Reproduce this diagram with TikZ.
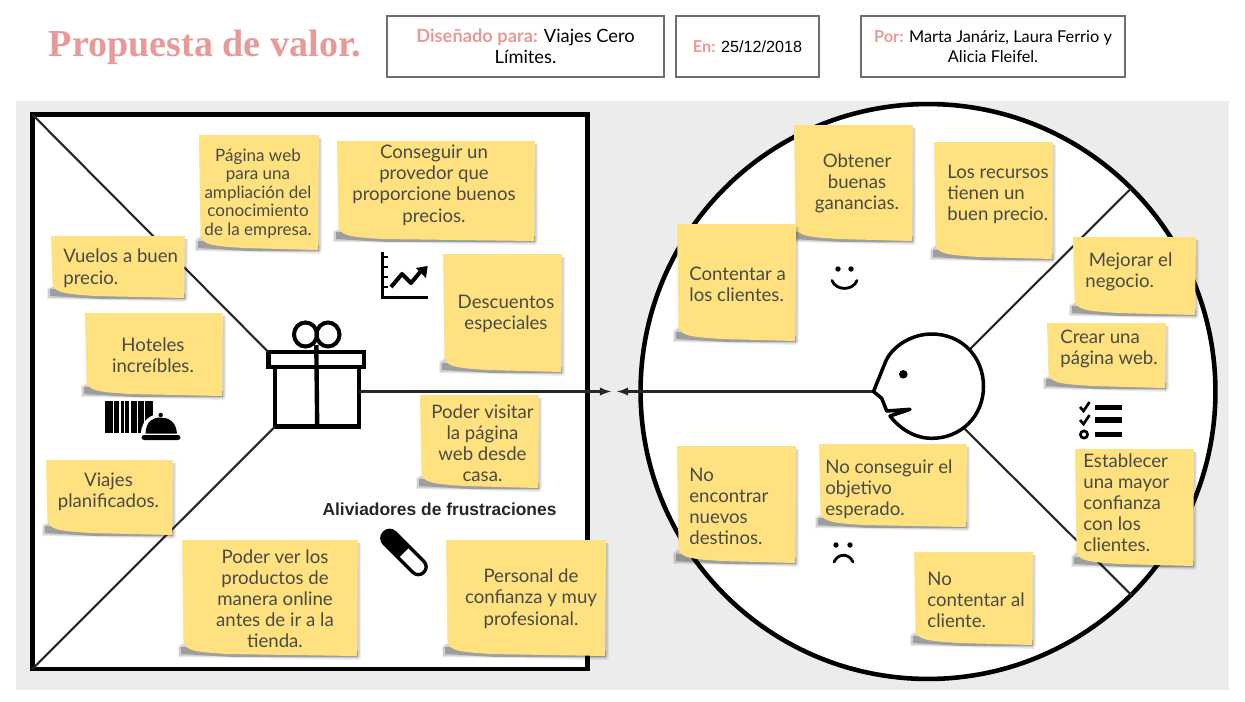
\documentclass[tikz,border=0pt]{standalone}
\usepackage{fontspec}
\usepackage{tikz}
\usetikzlibrary{arrows}
\setmainfont{Lato}
\newfontfamily\titlefont{Liberation Serif}
\newfontfamily\labelfont{Liberation Sans}

\definecolor{panelgray}{HTML}{ECECEC}
\definecolor{notefill}{HTML}{FFE17F}
\definecolor{notetext}{HTML}{4A4A44}
\definecolor{rosetext}{HTML}{EA9999}
\definecolor{headline}{HTML}{6E6E6E}

\tikzset{
  notelabel/.style={text=notetext, inner sep=0pt, yshift=-0.4pt, font=\fontsize{10.6}{12}\selectfont},
  smalllabel/.style={notelabel, font=\fontsize{9.7}{10.5}\selectfont},
  headbox/.style={draw=headline, line width=0.7pt, fill=white, inner sep=0pt, align=center, font=\fontsize{9.3}{11.6}\selectfont},
  thinrule/.style={line width=1.2pt, black!85},
  iconline/.style={line width=1.6pt, black, line cap=round, line join=round},
}

% name, left, top, right, bottom, text position, text options, text
\newcommand{\stickynote}[8]{
  \fill[black, opacity=0.07] ({#2-4},{#5-10}) -- ({#2-4},{#5+1}) -- ({#4+1},{#5+4}) -- ({#4+3},{#5+1}) -- ({#4+3},{#3+3}) -- ({#4},{#3+3}) -- cycle;
  \fill[black, opacity=0.12] ({#2-3},{#5-9}) -- ({#2-3},{#5}) -- ({#4},{#5+2.5}) -- ({#4+1.5},{#5}) -- ({#4+1.5},{#3+3}) -- ({#4},{#3+3}) -- cycle;
  \fill[black, opacity=0.24] ({#2-1},{#5-9}) -- ({#2-1},{#5-2}) -- ({#2+50},{#5+1}) -- ({#4},{#5+1}) -- ({#4},{#5-5}) -- cycle;
  \fill[notefill] (#2,#3) -- (#4,#3) -- ({#4-1},#5) -- ({#2+45},{#5-2})
    .. controls ({#2+14},{#5-4}) and ({#2+4},{#5-5}) .. ({#2+1.5},{#5-14}) -- cycle;
  \node[notelabel, #7] (#1) at (#6) {#8};
}

\begin{document}
\begin{tikzpicture}[x=0.02cm, y=-0.02cm]
\useasboundingbox (0,0) rectangle (1245,701);
\fill[white] (0,0) rectangle (1245,701);

% Header
\node[text=rosetext, font=\titlefont\bfseries\fontsize{21.7}{26}\selectfont, inner sep=0pt] (title) at (205,47) {Propuesta de valor.};
\node[headbox, minimum width=5.54cm, minimum height=1.22cm, font=\fontsize{10.4}{11.8}\selectfont] (designedbox) at (525.5,46.5)
  {{\color{rosetext}\bfseries Diseñado para:} Viajes Cero\\Límites.};
\node[headbox, minimum width=2.86cm, minimum height=1.22cm] (datebox) at (747.5,46.5)
  {{\color{rosetext}\bfseries En:} {\labelfont\fontsize{9.2}{11}\selectfont 25/12/2018}};
\node[headbox, minimum width=5.28cm, minimum height=1.22cm] (authorbox) at (993,46.5)
  {{\color{rosetext}\bfseries Por:} Marta Janáriz, Laura Ferrio y\\Alicia Fleifel.};

% Background panel
\fill[panelgray] (16,101) rectangle (1229,690);

% Value map
\node[draw=black, fill=white, line width=2.6pt, inner sep=0pt, outer sep=0pt,
  minimum width=11.1cm, minimum height=11.09cm] (valuebox) at (309.8,391.7) {};
\node[draw=black, line width=2.5pt, inner sep=0pt, outer sep=0pt, minimum width=1.68cm, minimum height=1.19cm] (giftbody) at (317.2,396.7) {};
\node[draw=black, fill=white, line width=2.5pt, inner sep=0pt, outer sep=0pt, minimum width=1.91cm, minimum height=0.30cm] (giftlid) at (316.3,359.7) {};
\coordinate (tipL) at (611,391.5);
\coordinate (tipR) at (617,391.5);
\draw[thinrule] (valuebox.north west) -- (giftlid.north west);
\draw[thinrule] (valuebox.south west) -- (giftbody.south west);
\draw[thinrule, -latex] (giftbody.east |- tipL) -- (tipL);
\draw[line width=2.5pt] ([yshift=4pt]giftlid.north) -- (giftbody.south);
\draw[line width=2.3pt] (305.5,334.5) ellipse (11.5 and 12);
\draw[line width=2.3pt] (328,334.5) ellipse (11.5 and 12);

% Customer profile
\node[circle, draw=black, fill=white, line width=2.6pt, inner sep=0pt, outer sep=0pt, minimum size=11.5cm] (customer) at (928,391.5) {};
\coordinate (nose) at (873.5,391.5);
\coordinate (headUp) at (970,349);
\coordinate (headDown) at (964.5,428.7);
\draw[thinrule] (customer.45) -- (headUp);
\draw[thinrule] (customer.-45) -- (headDown);
\draw[thinrule, -latex] (nose) -- (tipR);
\draw[fill=white, line width=2pt, line join=round] (873.5,391.5) -- (885,363)
  .. controls (891,347) and (911,334) .. (931.7,334)
  .. controls (962,334) and (983.5,357) .. (983.5,386.5)
  .. controls (983.5,416) and (961,438.3) .. (931.7,438.3)
  .. controls (915,438.3) and (900,429) .. (890,416) -- (910,409.3) -- (886.7,411) -- (881.7,398.3) -- cycle;
\fill (903.3,374.3) circle (4.3);

% Icons
\draw[line width=1.8pt] (382.5,252) -- (382.5,297.5) -- (427.5,297.5);
\foreach \ticky in {257,267,277,287} \draw[line width=1.5pt] (382.5,\ticky) -- (388,\ticky);
\draw[line width=2.3pt, line join=round] (391,287) -- (402,274) -- (411,283) -- (421,271);
\fill (427.7,266) -- (416,268) -- (426,278) -- cycle;
\foreach \barx/\barend in {105.3/112.7,114/119.3,120.7/124,125.3/129.3,130.7/136.7,138/144,145.3/153} \fill (\barx,401) rectangle (\barend,433);
\fill[white] (141,433) .. controls (142,418) and (153,414) .. (161,414) -- (161,442) -- (141,442) -- cycle;
\fill (145.5,433.5) .. controls (146,421) and (153,417.5) .. (160.5,417.5) .. controls (168,417.5) and (176,421) .. (177,433.5) -- cycle;
\fill (160.7,415) circle (2.2);
\fill[rounded corners=1.5pt] (141.5,435) rectangle (180.5,440);
\begin{scope}[rotate around={-45:(404,552.5)}]
  \draw[line width=1.9pt, fill=white, rounded corners=4.3pt] (376,544.75) rectangle (432,560.25);
  \begin{scope}
    \clip (370,540) rectangle (404,565);
    \fill[rounded corners=4.3pt] (376,544.75) rectangle (432,560.25);
  \end{scope}
\end{scope}
\fill (838,269) circle (2.7);
\fill (851,269) circle (2.7);
\draw[iconline] (832,280.5) .. controls (836,291) and (853,291) .. (857,280.5);
\fill (836,545) circle (2.7);
\fill (850,545) circle (2.7);
\draw[iconline] (834,562) .. controls (838,553) and (849,553) .. (853,562);
\foreach \listy in {407.5,420,434.5} \fill (1095,{\listy-2.7}) rectangle (1122,{\listy+2.7});
\draw[line width=1.5pt] (1080,407) -- (1083.5,411) -- (1089.5,402);
\draw[line width=1.5pt] (1080,420) -- (1083.5,424) -- (1089.5,415);
\draw[line width=1.5pt] (1084,434.5) circle (3.6);

% Value map notes
\stickynote{notepagina}{199}{135}{319}{250}{258,192}{smalllabel, align=center}{Página web\\para una\\ampliación del\\conocimiento\\de la empresa.}
\stickynote{noteprovedor}{337}{141}{535}{241}{434,184.5}{align=center}{Conseguir un\\provedor que\\proporcione buenos\\precios.}
\stickynote{notevuelos}{51}{236}{185}{298}{63,267.5}{anchor=west, align=left}{Vuelos a buen\\precio.}
\stickynote{notehoteles}{85}{313}{223}{396}{153,354.5}{align=center}{Hoteles\\increíbles.}
\stickynote{notedescuentos}{443}{254}{562}{372}{506,313.5}{align=center}{Descuentos\\especiales}
\stickynote{notevisitar}{420}{395}{539}{488}{482.5,442.5}{align=center}{Poder visitar\\la página\\web desde\\casa.}
\stickynote{noteviajes}{46}{460}{173}{535}{108.5,491.5}{align=center}{Viajes\\planificados.}
\stickynote{noteproductos}{182}{540}{358}{656}{275,598}{align=center}{Poder ver los\\productos de\\manera online\\antes de ir a la\\tienda.}
\stickynote{notepersonal}{446}{540}{606}{656}{531,598}{align=center}{Personal de\\confianza y muy\\profesional.}
\node[text=black!85, inner sep=0pt, font=\labelfont\bfseries\fontsize{9.9}{11}\selectfont] (reliefs) at (439.5,509) {Aliviadores de frustraciones};

% Customer notes
\stickynote{noteobtener}{794}{125}{913}{241}{857,183}{align=center}{Obtener\\buenas\\ganancias.}
\stickynote{notecontentar}{677}{224}{796}{341}{689,283.5}{anchor=west, align=left}{Contentar a\\los clientes.}
\stickynote{noterecursos}{934}{142}{1053}{259}{947,194}{anchor=west, align=left}{Los recursos\\tienen un\\buen precio.}
\stickynote{notemejorar}{1073}{237}{1196}{315}{1085,271.5}{anchor=west, align=left}{\hspace{2pt}Mejorar el\\negocio.}
\stickynote{notecrear}{1047}{323}{1166}{388}{1060,348.5}{anchor=west, align=left}{Crear una\\página web.}
\stickynote{noteestablecer}{1075}{449}{1194}{566}{1083,502}{anchor=west, align=left}{Establecer\\una mayor\\confianza\\con los\\clientes.}
\stickynote{noteencontrar}{677}{446}{796}{563}{689,505.5}{anchor=west, align=left}{No\\encontrar\\nuevos\\destinos.}
\stickynote{noteobjetivo}{819}{444}{967}{527}{825,488.5}{anchor=west, align=left}{No conseguir el\\objetivo\\esperado.}
\stickynote{notecliente}{914}{552}{1033}{645}{927,599}{anchor=west, align=left}{No\\contentar al\\cliente.}
\end{tikzpicture}
\end{document}
